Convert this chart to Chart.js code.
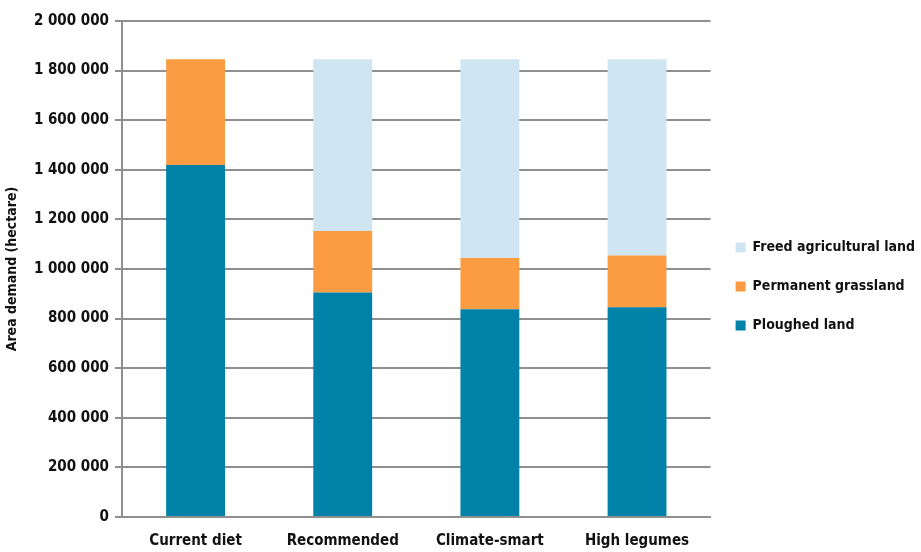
<!DOCTYPE html>
<html>
<head>
<meta charset="utf-8">
<script src="https://cdn.jsdelivr.net/npm/chart.js@4"></script>
<style>
  html, body { margin: 0; padding: 0; background: #fff; }
  #wrap { width: 921px; height: 552px; }
</style>
</head>
<body>
<div id="wrap"><canvas id="graph-area" width="921" height="552"></canvas></div>
<script>
const $graphArea = document.querySelector("#graph-area");

const diets = ["Current diet", "Recommended", "Climate-smart", "High legumes"];
const ploughedLand = [1419000, 905000, 838000, 846000];
const grassland = [427000, 248000, 206000, 208000];
const freedLand = [0, 693000, 802000, 792000];

const fontFam = '"Liberation Sans Narrow", "DejaVu Sans Condensed", "Roboto Condensed", sans-serif';
const gridColor = '#8f8f8f';

const spaced = v => String(v).replace(/\B(?=(\d{3})+(?!\d))/g, ' ');

new Chart($graphArea, {
    type: 'bar',
    data: {
        labels: diets,
        datasets: [
            { label: 'Ploughed land', data: ploughedLand, backgroundColor: '#0081a7', barPercentage: 0.8, categoryPercentage: 0.5 },
            { label: 'Permanent grassland', data: grassland, backgroundColor: '#fb9b42', barPercentage: 0.8, categoryPercentage: 0.5 },
            { label: 'Freed agricultural land', data: freedLand, backgroundColor: '#cfe5f2', barPercentage: 0.8, categoryPercentage: 0.5 }
        ]
    },
    options: {
        responsive: false,
        animation: false,
        layout: { padding: { top: 21, right: -4, bottom: 0, left: 0 } },
        plugins: {
            tooltip: { enabled: false },
            legend: {
                position: 'right',
                reverse: true,
                labels: {
                    boxWidth: 10,
                    boxHeight: 10,
                    padding: 25,
                    color: '#111',
                    font: { family: fontFam, size: 14, weight: 'bold' }
                }
            }
        },
        scales: {
            x: {
                stacked: true,
                grid: { display: false, drawTicks: false },
                border: { display: true, color: gridColor, width: 2 },
                ticks: { color: '#111', padding: 15, font: { family: fontFam, size: 15, weight: 'bold' } },
                afterFit: scale => { scale.height = 35; }
            },
            y: {
                stacked: true,
                min: 0,
                max: 2000000,
                grid: { color: gridColor, lineWidth: 2, tickLength: 7 },
                border: { display: true, color: gridColor, width: 2 },
                title: {
                    display: true,
                    text: 'Area demand (hectare)',
                    color: '#111',
                    padding: { top: 4, bottom: 4 },
                    font: { family: fontFam, size: 14, weight: 'bold' }
                },
                ticks: {
                    stepSize: 200000,
                    color: '#111',
                    padding: 6,
                    callback: v => spaced(v),
                    font: { family: fontFam, size: 15, weight: 'bold' }
                },
                afterFit: scale => { scale.width = 122; }
            }
        }
    }
});
</script>
</body>
</html>
